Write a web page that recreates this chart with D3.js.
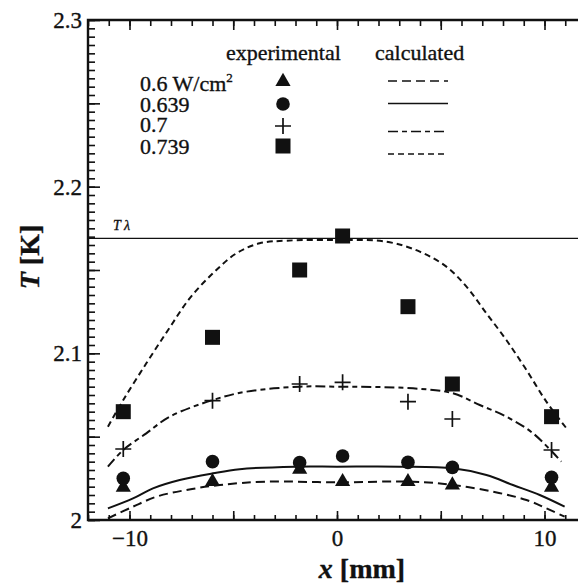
<!DOCTYPE html>
<html lang="en">
<head>
<meta charset="UTF-8">
<title>T vs x</title>
<script src="https://d3js.org/d3.v7.min.js"></script>
<style>
    body { margin: 0; background: #fff; }
    svg { display: block; }
    svg text { font-family: "Liberation Serif", "DejaVu Serif", Times, serif; fill: #111; stroke: #111; stroke-width: 0.35; }
    .axis path.domain { display: none; }
    .axis line { stroke: #111; stroke-width: 1.6; }
    .axis text { font-size: 23px; }
    .legend text { font-size: 22px; }
</style>
</head>
<body>
<svg width="578" height="584"></svg>
<script>
    // experimental x positions (mm)
    var xExp = [-10.3, -6.0, -1.8, 0.27, 3.42, 5.56, 10.34];
    var tExp06 = [2.0196, 2.023, 2.0304, 2.023, 2.023, 2.021, 2.0196];
    var tExp0639 = [2.025, 2.035, 2.0344, 2.0384, 2.0346, 2.0316, 2.0256];
    var tExp07 = [2.0426, 2.0716, 2.0816, 2.0826, 2.071, 2.0606, 2.042];
    var tExp0739 = [2.065, 2.1096, 2.150, 2.1704, 2.128, 2.0816, 2.062];

    // calculated curves
    var xCalc06 = [-11.04, -9.83, -8.7, -7.26, -5.65, -3.4, 0, 3.66, 5.59, 7.52, 9.13, 10.09, 10.97];
    var tCalc06 = [2.001, 2.008, 2.014, 2.018, 2.021, 2.023, 2.0226, 2.023, 2.021, 2.017, 2.012, 2.007, 2.002];
    var xCalc0639 = [-11.04, -9.83, -8.87, -7.58, -5.98, -4.69, -2, 0, 3, 5.59, 7.2, 8.48, 9.77, 10.97];
    var tCalc0639 = [2.007, 2.013, 2.019, 2.024, 2.028, 2.0305, 2.032, 2.032, 2.032, 2.031, 2.027, 2.021, 2.015, 2.008];
    var xCalc07 = [-11.04, -10.3, -9.19, -8.06, -5.98, -4.37, -1.8, 0, 3.66, 5.59, 6.88, 8.16, 9.45, 10.81];
    var tCalc07 = [2.032, 2.042, 2.052, 2.062, 2.072, 2.077, 2.080, 2.080, 2.079, 2.076, 2.069, 2.062, 2.052, 2.035];
    var xCalc0739 = [-11.04, -10.3, -9.19, -8.14, -7.1, -5.98, -4.85, -3.73, -2.44, 0, 2.38, 3.99, 5.27, 6.24, 7.2, 8.16, 9.13, 10.09, 11.06];
    var tCalc0739 = [2.056, 2.072, 2.094, 2.114, 2.133, 2.148, 2.160, 2.166, 2.1676, 2.168, 2.167, 2.161, 2.152, 2.140, 2.124, 2.108, 2.090, 2.071, 2.055];

    var tLambda = 2.169;
    var seriesNames = ["0.6 W/cm", "0.639", "0.7", "0.739"];
    var xTickLabels = [-10, 0, 10];
    var yTickLabels = [2, 2.1, 2.2, 2.3];

    var x = d3.scaleLinear().domain([-12, 12]).range([88, 586]);
    var y = d3.scaleLinear().domain([2, 2.3]).range([520, 20]);

    var svg = d3.select("svg");

    // ticks
    var xMinor = d3.range(-12, 12.01, 1);
    var xMajor = [-10, -5, 0, 5, 10];
    var yMinor = d3.range(2, 2.3001, 0.005);
    var yMajor = [2, 2.05, 2.1, 2.15, 2.2, 2.25, 2.3];

    svg.append("g").attr("class", "axis").attr("transform", "translate(0,520)")
        .call(d3.axisBottom(x).tickValues(xMinor).tickSize(-5).tickFormat(""));
    svg.append("g").attr("class", "axis").attr("transform", "translate(0,520)")
        .call(d3.axisBottom(x).tickValues(xMajor).tickSize(-9).tickFormat(""));
    svg.append("g").attr("class", "axis").attr("transform", "translate(0,520)")
        .call(d3.axisBottom(x).tickValues(xTickLabels).tickSize(0).tickPadding(10).tickFormat(d3.format("d")));

    svg.append("g").attr("class", "axis").attr("transform", "translate(0,20)")
        .call(d3.axisTop(x).tickValues(xMinor).tickSize(-6).tickFormat(""));
    svg.append("g").attr("class", "axis").attr("transform", "translate(0,20)")
        .call(d3.axisTop(x).tickValues(xMajor).tickSize(-10).tickFormat(""));

    svg.append("g").attr("class", "axis").attr("transform", "translate(88,0)")
        .call(d3.axisLeft(y).tickValues(yMinor).tickSize(-7).tickFormat(""));
    svg.append("g").attr("class", "axis").attr("transform", "translate(88,0)")
        .call(d3.axisLeft(y).tickValues(yMajor).tickSize(-12).tickFormat(""));
    svg.append("g").attr("class", "axis").attr("transform", "translate(88,0)")
        .call(d3.axisLeft(y).tickValues(yTickLabels).tickSize(0).tickPadding(6)
            .tickFormat(function(d) { return d === 2 ? "2" : d.toFixed(1); }));

    // frame
    svg.append("path")
        .attr("d", "M" + x(12) + "," + y(2.3) + "H" + x(-12) + "V" + y(2) + "H" + x(12))
        .attr("fill", "none").attr("stroke", "#111").attr("stroke-width", 2.4);

    // T lambda
    svg.append("line")
        .attr("x1", x(-12)).attr("x2", x(12))
        .attr("y1", y(tLambda)).attr("y2", y(tLambda))
        .attr("stroke", "#111").attr("stroke-width", 1.3);
    svg.append("text").attr("x", 113).attr("y", 230)
        .attr("font-size", 14).attr("font-style", "italic").text("T λ");

    // curves
    var line = d3.line()
        .x(function(d) { return x(d[0]); })
        .y(function(d) { return y(d[1]); })
        .curve(d3.curveCatmullRom.alpha(0.5));

    var calc = [
        { xs: xCalc06, ts: tCalc06, dash: "9,5" },
        { xs: xCalc0639, ts: tCalc0639, dash: null },
        { xs: xCalc07, ts: tCalc07, dash: "10,4,5,4" },
        { xs: xCalc0739, ts: tCalc0739, dash: "6,4" }
    ];
    calc.forEach(function(c) {
        svg.append("path")
            .datum(d3.zip(c.xs, c.ts))
            .attr("d", line)
            .attr("fill", "none")
            .attr("stroke", "#111")
            .attr("stroke-width", 2)
            .attr("stroke-dasharray", c.dash);
    });

    // markers
    function drawMarker(g, kind, cx, cy) {
        if (kind === "tri") {
            g.append("path").attr("d", d3.symbol(d3.symbolTriangle, 100)())
                .attr("transform", "translate(" + cx + "," + cy + ")").attr("fill", "#111");
        } else if (kind === "circle") {
            g.append("circle").attr("cx", cx).attr("cy", cy).attr("r", 6.8).attr("fill", "#111");
        } else if (kind === "cross") {
            g.append("path").attr("d", "M" + (cx - 8) + "," + cy + "H" + (cx + 8) + "M" + cx + "," + (cy - 8) + "V" + (cy + 8))
                .attr("stroke", "#111").attr("stroke-width", 1.7).attr("fill", "none");
        } else {
            g.append("rect").attr("x", cx - 7.5).attr("y", cy - 7.5).attr("width", 15).attr("height", 15).attr("fill", "#111");
        }
    }

    var exp = [
        { ts: tExp06, kind: "tri" },
        { ts: tExp0639, kind: "circle" },
        { ts: tExp07, kind: "cross" },
        { ts: tExp0739, kind: "square" }
    ];
    var mg = svg.append("g");
    exp.forEach(function(e) {
        xExp.forEach(function(xv, i) {
            drawMarker(mg, e.kind, x(xv), y(e.ts[i]));
        });
    });

    // legend
    var lg = svg.append("g").attr("class", "legend");
    lg.append("text").attr("x", 226).attr("y", 60).text("experimental");
    lg.append("text").attr("x", 375).attr("y", 60).text("calculated");
    var rowsText = [90.5, 111.5, 132, 154];
    var rowsMark = [81.5, 104, 126, 146];
    var rowsLine = [81, 103.5, 131.5, 154];
    seriesNames.forEach(function(n, i) {
        var t = lg.append("text").attr("x", 140).attr("y", rowsText[i]).text(n);
        if (i === 0) t.append("tspan").attr("dy", -9).attr("font-size", 13).text("2");
        drawMarker(lg, exp[i].kind, 283, rowsMark[i]);
        lg.append("line").attr("x1", 388).attr("x2", 448)
            .attr("y1", rowsLine[i]).attr("y2", rowsLine[i])
            .attr("stroke", "#111").attr("stroke-width", 1.6)
            .attr("stroke-dasharray", calc[i].dash);
    });

    // axis titles
    var yt = svg.append("text").attr("transform", "translate(39,257) rotate(-90)")
        .attr("text-anchor", "middle").attr("font-size", 28).attr("font-weight", "bold");
    yt.append("tspan").attr("font-style", "italic").text("T");
    yt.append("tspan").text(" [K]");
    var xt = svg.append("text").attr("x", 362).attr("y", 578)
        .attr("text-anchor", "middle").attr("font-size", 28).attr("font-weight", "bold");
    xt.append("tspan").attr("font-style", "italic").text("x");
    xt.append("tspan").text(" [mm]");
</script>
</body>
</html>
